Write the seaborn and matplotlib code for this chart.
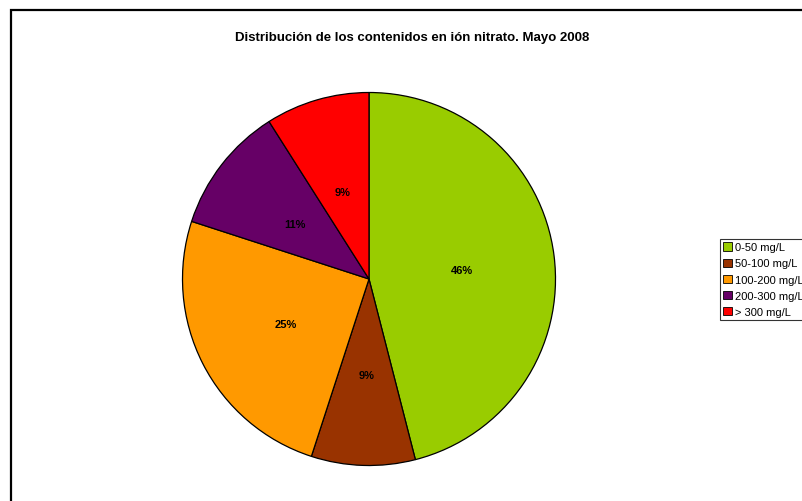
import matplotlib
matplotlib.use("Agg")
import matplotlib.pyplot as plt
import matplotlib.patches as mpatches
import seaborn as sns

categories = ["0-50 mg/L", "50-100 mg/L", "100-200 mg/L", "200-300 mg/L", "> 300 mg/L"]
values = [46, 9, 25, 11, 9]
colors = ["#99CC00", "#993300", "#FF9900", "#660066", "#FF0000"]
title = "Distribución de los contenidos en ión nitrato. Mayo 2008"

sns.set_style("white")
plt.rcParams["font.family"] = ["Liberation Sans", "DejaVu Sans"]
plt.rcParams["text.color"] = "black"

W, H = 802, 502
fig = plt.figure(figsize=(W / 100, H / 100), dpi=100)
fig.patch.set_facecolor("white")

cx, cy, r = 369, 280, 186.5
ax = fig.add_axes([(cx - r) / W, (H - cy - r) / H, 2 * r / W, 2 * r / H])
palette = sns.color_palette(colors)
wedges, texts, autotexts = ax.pie(
    values, colors=palette, startangle=90, counterclock=False,
    autopct=lambda p: f"{p:.0f}%", pctdistance=0.5,
    wedgeprops=dict(edgecolor="black", linewidth=0.9),
    textprops=dict(fontsize=8, fontweight="bold", color="black"),
)
for t in autotexts:
    x, y = t.get_position()
    t.set_position((x, y - 2.5 / r))
ax.set_xlim(-1, 1)
ax.set_ylim(-1, 1)
ax.set_aspect("equal")
ax.axis("off")

fig.text(412 / W, 1 - 38 / H, title, ha="center", va="center",
         fontsize=9.5, fontweight="bold", color="black")

handles = [mpatches.Patch(facecolor=c, edgecolor="black", linewidth=0.6) for c in palette]
leg = fig.legend(handles, categories, loc="upper left",
                 bbox_to_anchor=(720 / W, 1 - 240 / H), fontsize=8,
                 frameon=True, fancybox=False, edgecolor="black",
                 handlelength=0.75, handleheight=0.75, handletextpad=0.3,
                 labelspacing=0.55, borderpad=0.3, borderaxespad=0)
leg.get_frame().set_linewidth(0.8)
for t in leg.get_texts():
    t.set_color("black")

frame = mpatches.Rectangle((11 / W, -0.1), 1.2, 1 - 11 / H + 0.1,
                           transform=fig.transFigure, fill=False,
                           edgecolor="black", linewidth=1.6, clip_on=False)
fig.patches.append(frame)

fig.savefig("out.png", dpi=100, facecolor="white")
